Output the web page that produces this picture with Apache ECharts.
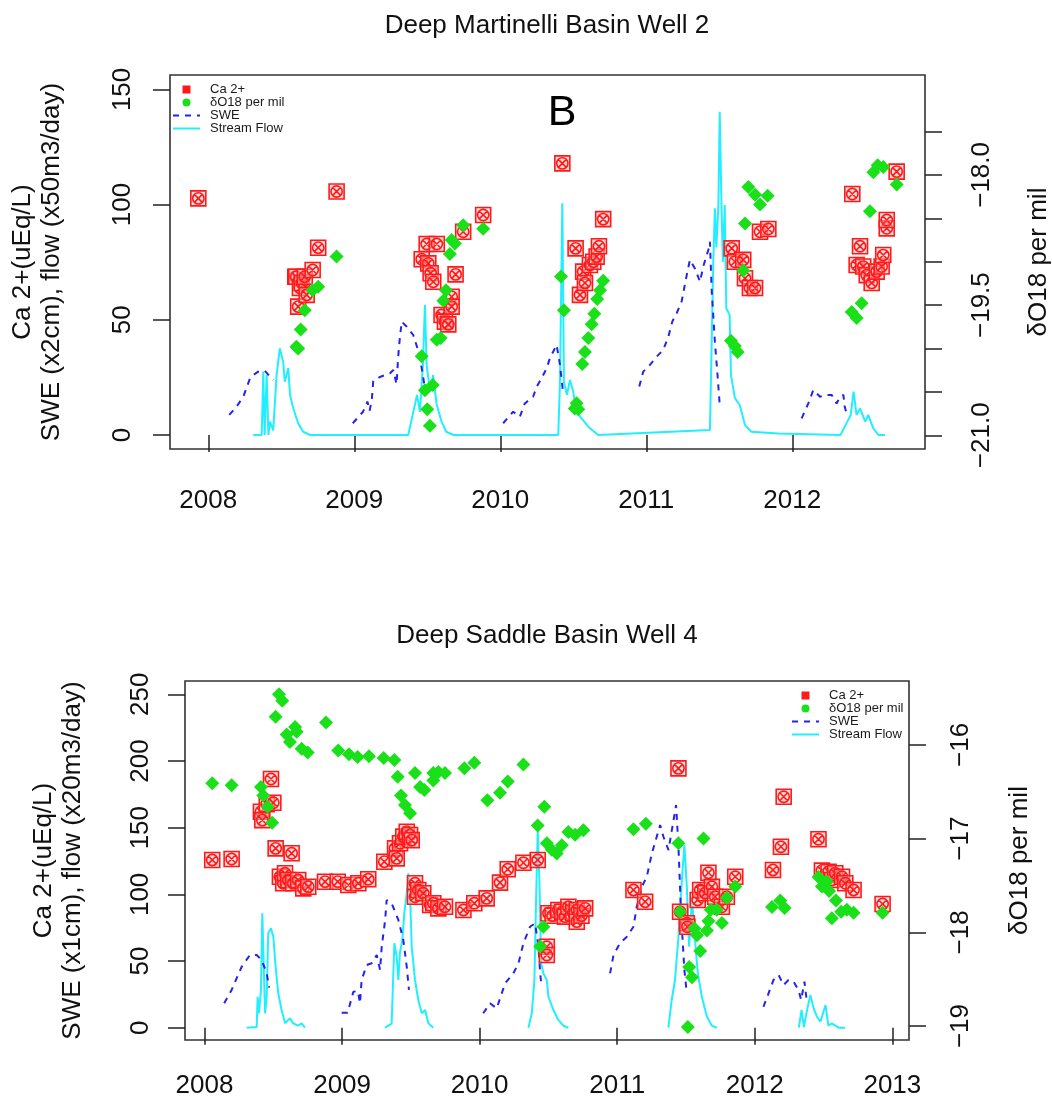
<!DOCTYPE html>
<html>
<head>
<meta charset="utf-8">
<script src="https://cdn.jsdelivr.net/npm/echarts@6/dist/echarts.min.js"></script>
<style>
  html, body { margin: 0; padding: 0; background: #fff; }
  #chart { width: 1052px; height: 1101px; }
</style>
</head>
<body>
<div id="chart"></div>
<script>
// ---- top panel: Deep Martinelli Basin Well 2 ----
const caTop = [
  [2007.932, 102.7], [2008.596, 68.7], [2008.603, 68.7], [2008.616, 55.7], [2008.628, 63.8],
  [2008.64, 66.0], [2008.661, 68.7], [2008.674, 60.8], [2008.715, 71.6], [2008.753, 81.3],
  [2008.879, 105.7],
  [2009.462, 76.3], [2009.496, 82.9], [2009.507, 74.5], [2009.523, 70.2], [2009.541, 66.5],
  [2009.565, 82.9], [2009.598, 52.1], [2009.621, 49.2], [2009.644, 48.0], [2009.667, 60.0],
  [2009.667, 55.7], [2009.694, 69.7], [2009.746, 88.2], [2009.883, 95.5],
  [2010.425, 117.9], [2010.516, 81.0], [2010.546, 60.8], [2010.568, 70.9], [2010.58, 66.0],
  [2010.614, 73.8], [2010.637, 75.2], [2010.66, 77.4], [2010.676, 81.9], [2010.705, 93.7],
  [2011.585, 81.0], [2011.607, 75.2], [2011.664, 76.0], [2011.676, 68.0], [2011.71, 63.8],
  [2011.745, 63.8], [2011.779, 88.2], [2011.836, 89.4],
  [2012.411, 104.6], [2012.441, 73.8], [2012.464, 81.9], [2012.486, 73.1], [2012.51, 69.4],
  [2012.544, 66.0], [2012.578, 70.9], [2012.612, 73.1], [2012.623, 78.1], [2012.647, 89.7],
  [2012.647, 93.3], [2012.715, 114.3]
];
const d18Top = [
  [2008.603, -19.98], [2008.616, -20.0], [2008.633, -19.78], [2008.661, -19.56], [2008.715, -19.33],
  [2008.753, -19.29], [2008.879, -18.94],
  [2009.462, -20.09], [2009.484, -20.48], [2009.5, -20.7], [2009.518, -20.89], [2009.537, -20.42],
  [2009.565, -19.9], [2009.592, -19.88], [2009.61, -19.45], [2009.628, -19.33], [2009.655, -18.91],
  [2009.667, -18.75], [2009.689, -18.79], [2009.746, -18.58], [2009.883, -18.62],
  [2010.416, -19.17], [2010.436, -19.56], [2010.51, -20.69], [2010.523, -20.63], [2010.534, -20.7],
  [2010.562, -20.18], [2010.58, -20.04], [2010.603, -19.88], [2010.626, -19.72], [2010.644, -19.6],
  [2010.664, -19.43], [2010.683, -19.33], [2010.705, -19.22],
  [2011.58, -19.91], [2011.607, -19.97], [2011.626, -20.04], [2011.664, -19.1], [2011.676, -18.56],
  [2011.699, -18.14], [2011.745, -18.23], [2011.779, -18.34], [2011.831, -18.24],
  [2012.407, -19.58], [2012.441, -19.65], [2012.475, -19.48], [2012.532, -18.42], [2012.555, -17.97],
  [2012.585, -17.89], [2012.623, -17.91], [2012.715, -18.11]
];
const sweTop2008 = [[2008.144, 8.7], [2008.194, 12.3], [2008.24, 16.6], [2008.286, 24.6], [2008.308, 26.0],
  [2008.342, 27.5], [2008.388, 27.8], [2008.423, 25.3], [2008.445, 23.9]];
const sweTop2009 = [[2008.99, 5.1], [2009.06, 10.1], [2009.09, 14.5], [2009.105, 10.5], [2009.12, 15.2],
  [2009.13, 23.4], [2009.18, 25.3], [2009.245, 26.8], [2009.267, 28.2], [2009.29, 22.0], [2009.3, 33.3],
  [2009.312, 42.0], [2009.325, 49.2], [2009.36, 47.0], [2009.404, 43.4], [2009.44, 36.2],
  [2009.462, 29.0], [2009.484, 20.3]];
const sweTop2010 = [[2010.02, 5.1], [2010.088, 10.1], [2010.134, 7.9], [2010.168, 13.7], [2010.225, 16.6],
  [2010.25, 21.0], [2010.283, 24.6], [2010.318, 29.0], [2010.34, 33.3], [2010.386, 39.1],
  [2010.409, 30.4], [2010.432, 17.4]];
const sweTop2011 = [[2010.952, 21.0], [2010.979, 27.5], [2011.025, 30.4], [2011.071, 34.0], [2011.116, 36.9],
  [2011.151, 42.6], [2011.178, 49.2], [2011.208, 52.8], [2011.242, 57.9], [2011.277, 69.4],
  [2011.299, 76.0], [2011.333, 72.3], [2011.368, 66.5], [2011.39, 73.1], [2011.425, 80.3],
  [2011.436, 83.9], [2011.448, 62.8], [2011.47, 40.4], [2011.488, 26.0], [2011.503, 13.0]];
const sweTop2012 = [[2012.064, 7.2], [2012.11, 13.7], [2012.144, 19.5], [2012.19, 16.6], [2012.224, 17.4],
  [2012.27, 17.4], [2012.304, 13.7], [2012.327, 16.6], [2012.35, 17.4], [2012.36, 12.0], [2012.375, 8.7]];
const flowTop = [
  [2008.308, 0], [2008.366, 0], [2008.377, 27.5], [2008.386, 0], [2008.4, 26.0], [2008.412, 0],
  [2008.423, 5.8], [2008.445, 2.0], [2008.468, 26.0], [2008.49, 37.6], [2008.502, 38.3], [2008.513, 31.8],
  [2008.524, 23.1], [2008.548, 29.0], [2008.56, 17.4], [2008.582, 11.6], [2008.616, 5.1], [2008.65, 1.4],
  [2008.697, 0],
  [2009.37, 0], [2009.43, 17.4], [2009.45, 10.0], [2009.47, 30.4], [2009.484, 56.4], [2009.496, 30.0],
  [2009.52, 18.8], [2009.54, 26.0], [2009.565, 13.0], [2009.598, 5.8], [2009.63, 1.4], [2009.68, 0],
  [2010.397, 0], [2010.409, 23.1], [2010.425, 100.6], [2010.436, 23.0], [2010.457, 17.4], [2010.477, 23.9],
  [2010.5, 18.8], [2010.52, 10.0], [2010.557, 7.2], [2010.603, 3.6], [2010.67, 0],
  [2011.436, 2.2], [2011.459, 75.2], [2011.47, 98.4], [2011.48, 81.4], [2011.494, 99.8], [2011.503, 140.3],
  [2011.516, 97.1], [2011.525, 75.2], [2011.537, 99.8], [2011.548, 55.0], [2011.571, 52.0], [2011.58, 26.0],
  [2011.607, 16.0], [2011.64, 13.0], [2011.676, 4.3], [2011.72, 1.4], [2011.904, 0.7],
  [2012.33, 0], [2012.365, 4.3], [2012.4, 8.7], [2012.42, 18.8], [2012.44, 8.7], [2012.464, 11.6],
  [2012.5, 5.8], [2012.52, 8.7], [2012.555, 2.9], [2012.59, 0], [2012.635, 0]
];

// ---- bottom panel: Deep Saddle Basin Well 4 ----
const caBot = [
  [2008.056, 125.8], [2008.197, 126.5], [2008.41, 162.0], [2008.42, 155.7], [2008.452, 167.7],
  [2008.483, 186.5], [2008.5, 168.7], [2008.517, 134.5], [2008.548, 113.2], [2008.572, 108.3],
  [2008.585, 115.8], [2008.609, 110.8], [2008.633, 130.8], [2008.645, 108.3], [2008.681, 110.8],
  [2008.718, 104.5], [2008.754, 105.7], [2008.876, 109.5], [2008.968, 109.5], [2009.045, 107.0],
  [2009.118, 108.3], [2009.19, 111.3], [2009.307, 124.5], [2009.385, 134.5], [2009.397, 127.0],
  [2009.421, 138.3], [2009.445, 143.3], [2009.47, 147.0], [2009.494, 144.5], [2009.506, 140.7],
  [2009.53, 108.3], [2009.53, 98.2], [2009.554, 103.3], [2009.59, 100.8], [2009.64, 92.0],
  [2009.663, 93.3], [2009.7, 89.5], [2009.748, 90.7], [2009.882, 88.3], [2009.961, 93.3],
  [2010.051, 97.0], [2010.148, 108.8], [2010.204, 118.8], [2010.318, 123.7], [2010.422, 125.8],
  [2010.488, 60.7], [2010.488, 54.5], [2010.5, 85.8], [2010.53, 84.0], [2010.572, 88.3],
  [2010.6, 87.0], [2010.62, 83.3], [2010.645, 90.7], [2010.68, 86.0], [2010.706, 88.3],
  [2010.706, 79.5], [2010.74, 84.0], [2010.767, 89.5],
  [2011.118, 103.3], [2011.203, 94.5], [2011.445, 194.5], [2011.457, 87.0], [2011.506, 78.3],
  [2011.51, 75.7], [2011.585, 95.8], [2011.603, 103.3], [2011.64, 100.8], [2011.663, 116.2],
  [2011.688, 105.7], [2011.712, 98.2], [2011.761, 90.7], [2011.797, 98.2], [2011.858, 113.2],
  [2012.132, 118.3], [2012.19, 135.7], [2012.21, 173.2], [2012.463, 141.3], [2012.488, 117.8],
  [2012.536, 117.0], [2012.56, 110.8], [2012.585, 115.8], [2012.634, 113.2], [2012.658, 108.3],
  [2012.718, 103.3], [2012.929, 92.8]
];
const d18Bot = [
  [2008.056, -16.41], [2008.197, -16.43], [2008.41, -16.45], [2008.427, -16.54], [2008.459, -16.66],
  [2008.492, -16.83], [2008.517, -15.7], [2008.541, -15.46], [2008.565, -15.53], [2008.597, -15.89],
  [2008.621, -15.97], [2008.658, -15.81], [2008.67, -15.86], [2008.706, -16.04], [2008.75, -16.08],
  [2008.883, -15.76], [2008.972, -16.06], [2009.05, -16.1], [2009.113, -16.13], [2009.195, -16.12],
  [2009.302, -16.14], [2009.38, -16.16], [2009.404, -16.34], [2009.428, -16.54], [2009.457, -16.64],
  [2009.494, -16.73], [2009.53, -16.3], [2009.567, -16.45], [2009.598, -16.48], [2009.663, -16.38],
  [2009.663, -16.3], [2009.7, -16.29], [2009.748, -16.3], [2009.889, -16.25], [2009.961, -16.19],
  [2010.056, -16.59], [2010.148, -16.51], [2010.204, -16.39], [2010.318, -16.21], [2010.422, -16.86],
  [2010.44, -18.15], [2010.463, -17.94], [2010.47, -16.66], [2010.488, -17.05], [2010.524, -17.12],
  [2010.56, -17.16], [2010.597, -17.07], [2010.645, -16.93], [2010.694, -16.96], [2010.754, -16.91],
  [2011.118, -16.9], [2011.208, -16.84], [2011.445, -17.05], [2011.457, -17.78], [2011.513, -19.01],
  [2011.523, -18.37], [2011.543, -18.48], [2011.561, -17.96], [2011.58, -18.03], [2011.603, -18.2],
  [2011.627, -17.0], [2011.652, -17.98], [2011.663, -17.88], [2011.68, -17.76], [2011.724, -17.76],
  [2011.761, -17.9], [2011.797, -17.63], [2011.858, -17.51],
  [2012.125, -17.73], [2012.185, -17.66], [2012.217, -17.74], [2012.463, -17.41], [2012.488, -17.51],
  [2012.524, -17.46], [2012.54, -17.56], [2012.56, -17.85], [2012.59, -17.66], [2012.628, -17.78],
  [2012.669, -17.76], [2012.718, -17.79], [2012.929, -17.79]
];
const sweBot2008 = [[2008.143, 18.3], [2008.197, 28.3], [2008.27, 45.7], [2008.33, 54.5], [2008.379, 54.5],
  [2008.415, 50.8], [2008.452, 40.8], [2008.47, 30.0]];
const sweBot2009 = [[2008.997, 11.2], [2009.04, 11.2], [2009.082, 27.0], [2009.115, 27.5], [2009.13, 18.3],
  [2009.142, 35.8], [2009.179, 47.0], [2009.215, 48.3], [2009.252, 54.5], [2009.276, 43.3],
  [2009.288, 60.7], [2009.313, 80.8], [2009.324, 95.8], [2009.36, 93.3], [2009.409, 80.8],
  [2009.445, 65.8], [2009.47, 45.7], [2009.486, 28.3]];
const sweBot2010 = [[2010.026, 10.8], [2010.075, 18.3], [2010.124, 14.5], [2010.185, 33.3], [2010.245, 40.8],
  [2010.282, 48.3], [2010.318, 63.3], [2010.366, 75.7], [2010.403, 78.3], [2010.427, 60.7],
  [2010.44, 40.8], [2010.45, 30.7]];
const sweBot2011 = [[2010.948, 40.8], [2010.973, 54.5], [2011.02, 63.3], [2011.07, 68.2], [2011.118, 75.7],
  [2011.142, 90.7], [2011.179, 105.7], [2011.215, 113.2], [2011.252, 130.8], [2011.312, 152.0],
  [2011.336, 143.2], [2011.373, 133.2], [2011.397, 148.2], [2011.428, 167.0], [2011.445, 135.7],
  [2011.464, 85.8], [2011.488, 43.3], [2011.506, 25.8]];
const sweBot2012 = [[2012.063, 15.7], [2012.1, 25.8], [2012.136, 35.8], [2012.173, 39.5], [2012.209, 32.0],
  [2012.245, 35.8], [2012.282, 34.5], [2012.318, 28.3], [2012.337, 20.8], [2012.361, 34.5], [2012.377, 20.8]];
const flowBot2008 = [[2008.306, 0], [2008.379, 0.5], [2008.386, 23.2], [2008.396, 10.8], [2008.41, 28.3],
  [2008.42, 85.8], [2008.43, 48.3], [2008.44, 10.8], [2008.452, 23.2], [2008.463, 70.8], [2008.483, 74.5],
  [2008.5, 68.2], [2008.517, 45.7], [2008.536, 25.8], [2008.56, 13.3], [2008.585, 3.3], [2008.62, 7.0],
  [2008.645, 3.3], [2008.681, 1.5], [2008.705, 3.3], [2008.73, 0]];
const flowBot2009 = [[2009.312, 0], [2009.36, 3.0], [2009.38, 63.3], [2009.397, 53.2], [2009.409, 35.8],
  [2009.42, 55.8], [2009.438, 65.8], [2009.452, 85.8], [2009.47, 100.8], [2009.482, 115.8], [2009.494, 100.8],
  [2009.506, 60.7], [2009.53, 35.8], [2009.554, 20.8], [2009.579, 10.8], [2009.603, 13.3], [2009.627, 3.3],
  [2009.663, 0]];
const flowBot2010 = [[2010.354, 0], [2010.379, 10.8], [2010.398, 35.8], [2010.408, 85.8], [2010.422, 148.2],
  [2010.434, 110.8], [2010.447, 48.3], [2010.463, 40.8], [2010.488, 35.8], [2010.5, 23.2], [2010.536, 13.3],
  [2010.572, 5.8], [2010.608, 1.5], [2010.645, 0]];
const flowBot2011 = [[2011.372, 0], [2011.396, 20.8], [2011.42, 35.8], [2011.445, 68.2], [2011.47, 110.8],
  [2011.488, 137.0], [2011.506, 105.7], [2011.523, 60.7], [2011.543, 98.2], [2011.561, 70.8], [2011.586, 40.8],
  [2011.615, 23.2], [2011.652, 8.2], [2011.688, 1.5], [2011.724, 0]];
const flowBot2012 = [[2012.32, 0], [2012.34, 13.3], [2012.357, 0.5], [2012.38, 13.3], [2012.404, 24.5],
  [2012.428, 14.5], [2012.452, 8.2], [2012.477, 4.5], [2012.514, 17.0], [2012.535, 1.5], [2012.56, 3.3],
  [2012.609, 0], [2012.657, 0]];

const yearTicksTop = [2008, 2009, 2010, 2011, 2012];
const yearTicksBot = [2008, 2009, 2010, 2011, 2012, 2013];
const leftTicksTop = [0, 50, 100, 150];
const rightTicksTop = [-21, -20.5, -20, -19.5, -19, -18.5, -18, -17.5];
const rightLabelsTop = [-21, -19.5, -18];
const leftTicksBot = [0, 50, 100, 150, 200, 250];
const rightTicksBot = [-19, -18, -17, -16];

const FONT = "'Liberation Sans', Arial, sans-serif";
const RED = '#ff1a1a';
const GREEN = '#19e019';
const BLUE = '#2323ee';
const CYAN = '#22eeff';
const CA_SYMBOL = 'path://M0,0H20V20H0Z M2.5,10A7.5,7.5,0,1,1,17.5,10A7.5,7.5,0,1,1,2.5,10Z M4.7,4.7L15.3,15.3 M15.3,4.7L4.7,15.3';

function joinSeasons(seasons) {
  const out = [];
  seasons.forEach((s, i) => {
    if (i > 0) out.push([s[0][0], '-']);
    s.forEach(p => out.push(p));
  });
  return out;
}
function minus(s) { return s.replace('-', '\u2212'); }

function xAxisOf(gridIndex, min, max, ticks, margin) {
  return {
    type: 'value', gridIndex, min, max,
    splitLine: { show: false },
    axisLine: { show: false },
    axisTick: { show: true, customValues: ticks, length: 17, lineStyle: { color: '#222', width: 1.5 } },
    axisLabel: { customValues: ticks, margin, fontSize: 26, color: '#111', fontFamily: FONT,
      formatter: v => String(Math.round(v)) }
  };
}
function yAxisOf(gridIndex, pos, min, max, ticks, labels, margin, fmt, name, nameGap) {
  return {
    type: 'value', gridIndex, position: pos, min, max,
    splitLine: { show: false },
    axisLine: { show: false },
    axisTick: { show: true, customValues: ticks, length: 17, lineStyle: { color: '#222', width: 1.5 } },
    axisLabel: { customValues: labels, rotate: 90, margin, fontSize: 26, color: '#111', fontFamily: FONT,
      formatter: fmt },
    name, nameLocation: 'middle', nameRotate: 90, nameGap,
    nameTextStyle: { fontSize: 26, lineHeight: 29, color: '#111', fontFamily: FONT }
  };
}

const legendData = [
  { name: 'Ca 2+', icon: 'path://M0,0H10V10H0Z', itemStyle: { color: RED, borderWidth: 0 } },
  { name: 'δO18 per mil', icon: 'circle', itemStyle: { color: GREEN, borderWidth: 0 } },
  { name: 'SWE', itemStyle: { opacity: 0 } },
  { name: 'Stream Flow', itemStyle: { opacity: 0 } }
];
function legendAt(left, top) {
  return {
    orient: 'vertical', left, top, itemWidth: 27, itemHeight: 8, itemGap: 0,
    selectedMode: false, padding: 0,
    textStyle: { fontSize: 13, lineHeight: 12.3, color: '#1a1a1a', fontFamily: FONT, padding: [0, 0, 0, 5] },
    data: legendData
  };
}

function lineSeries(name, data, xi, yi, style) {
  return { name, type: 'line', xAxisIndex: xi, yAxisIndex: yi, data, symbol: 'none', showSymbol: false,
    connectNulls: false, lineStyle: style, itemStyle: { color: style.color }, z: 2 };
}
function caSeries(data, xi, yi) {
  return { name: 'Ca 2+', type: 'scatter', xAxisIndex: xi, yAxisIndex: yi, data,
    symbol: CA_SYMBOL, symbolSize: 15,
    itemStyle: { color: 'rgba(255,190,190,0.5)', borderColor: RED, borderWidth: 1.6, opacity: 1 }, z: 3 };
}
function d18Series(data, xi, yi) {
  return { name: 'δO18 per mil', type: 'scatter', xAxisIndex: xi, yAxisIndex: yi, data,
    symbol: 'diamond', symbolSize: 14, itemStyle: { color: GREEN, opacity: 1 }, z: 4 };
}

const el = echarts.init(document.getElementById('chart'));
const option = {
  animation: false,
  backgroundColor: '#fff',
  textStyle: { fontFamily: FONT },
  title: [
    { text: 'Deep Martinelli Basin Well 2', left: 547, top: 13, textAlign: 'center', padding: 0,
      textStyle: { fontSize: 26, fontWeight: 'normal', color: '#111', fontFamily: FONT } },
    { text: 'Deep Saddle Basin Well 4', left: 547, top: 623, textAlign: 'center', padding: 0,
      textStyle: { fontSize: 26, fontWeight: 'normal', color: '#111', fontFamily: FONT } }
  ],
  graphic: [
    { type: 'text', x: 562, y: 113, z: 10,
      style: { text: 'B', fontSize: 43, fill: '#000', fontFamily: FONT, textAlign: 'center', textVerticalAlign: 'middle' } }
  ],
  legend: [legendAt(172, 83), legendAt(791, 689)],
  grid: [
    { left: 170, top: 75, width: 755, height: 374, show: true, borderColor: '#333', borderWidth: 1.6,
      outerBoundsMode: 'none' },
    { left: 185, top: 681, width: 724, height: 359, show: true, borderColor: '#333', borderWidth: 1.6,
      outerBoundsMode: 'none' }
  ],
  xAxis: [
    xAxisOf(0, 2007.738, 2012.909, yearTicksTop, 39),
    xAxisOf(1, 2007.858, 2013.121, yearTicksBot, 33)
  ],
  yAxis: [
    yAxisOf(0, 'left', -6.08, 156.25, leftTicksTop, leftTicksTop, 34, v => String(v),
      'Ca 2+(uEq/L)\nSWE (x2cm), flow (x50m3/day)', 104),
    yAxisOf(0, 'right', -21.158, -16.849, rightTicksTop, rightLabelsTop, 44, v => minus(v.toFixed(1)),
      'δO18 per mil', 99),
    yAxisOf(1, 'left', -9.22, 260.0, leftTicksBot, leftTicksBot, 31, v => String(v),
      'Ca 2+(uEq/L)\nSWE (x1cm), flow (x20m3/day)', 98),
    yAxisOf(1, 'right', -19.149, -15.318, rightTicksBot, rightTicksBot, 39, v => minus(String(Math.round(v))),
      'δO18 per mil', 96)
  ],
  series: [
    lineSeries('Stream Flow', flowTop, 0, 0, { color: CYAN, width: 2 }),
    lineSeries('SWE', joinSeasons([sweTop2008, sweTop2009, sweTop2010, sweTop2011, sweTop2012]), 0, 0,
      { color: BLUE, width: 2, type: [6, 6] }),
    caSeries(caTop, 0, 0),
    d18Series(d18Top, 0, 1),
    lineSeries('Stream Flow', joinSeasons([flowBot2008, flowBot2009, flowBot2010, flowBot2011, flowBot2012]), 1, 2,
      { color: CYAN, width: 2 }),
    lineSeries('SWE', joinSeasons([sweBot2008, sweBot2009, sweBot2010, sweBot2011, sweBot2012]), 1, 2,
      { color: BLUE, width: 2, type: [6, 6] }),
    caSeries(caBot, 1, 2),
    d18Series(d18Bot, 1, 3)
  ]
};
el.setOption(option);
window.addEventListener('resize', () => el.resize());
</script>
</body>
</html>
